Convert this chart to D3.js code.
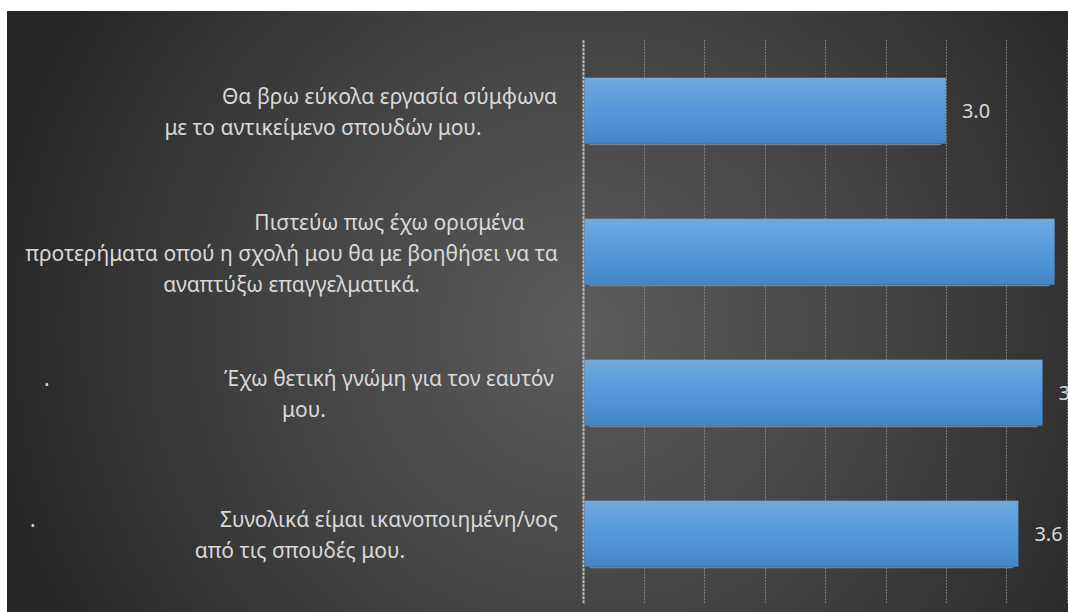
<!DOCTYPE html>
<html>
<head>
<meta charset="utf-8">
<script src="https://cdn.jsdelivr.net/npm/d3@7"></script>
<style>
  html, body { margin: 0; padding: 0; background: #ffffff; }
  svg { display: block; }
  text { font-family: "Noto Sans", "Open Sans", sans-serif; }
</style>
</head>
<body>
<svg id="chart" width="1068" height="612"></svg>
<script>
// Survey statements (wrapped as they appear on the axis) and mean scores
const categories = [
  "Θα βρω εύκολα εργασία σύμφωνα με το αντικείμενο σπουδών μου.",
  "Πιστεύω πως έχω ορισμένα προτερήματα οπού η σχολή μου θα με βοηθήσει να τα αναπτύξω επαγγελματικά.",
  "Έχω θετική γνώμη για τον εαυτόν μου.",
  "Συνολικά είμαι ικανοποιημένη/νος από τις σπουδές μου."
];
const categoryLines = [
  ["Θα βρω εύκολα εργασία σύμφωνα", "με το αντικείμενο σπουδών μου."],
  ["Πιστεύω πως έχω ορισμένα", "προτερήματα οπού η σχολή μου θα με βοηθήσει να τα", "αναπτύξω επαγγελματικά."],
  ["Έχω θετική γνώμη για τον εαυτόν", "μου."],
  ["Συνολικά είμαι ικανοποιημένη/νος", "από τις σπουδές μου."]
];
const leadingMarks = ["", "", ".", "."];
const scores = [3.0, 3.9, 3.8, 3.6];
const gridStep = 0.5;
const axisMax = 4.5;

// Layout
const W = 1068, H = 612;
const frame = { x: 7, y: 11 };
const plot = { left: 583.5, top: 40.2, bottom: 604.2, unit: 120.8 };
const lineGap = 31;
const labelSize = 21;
const valueSize = 20;
const lineCenters = [[389.5, 323], [389.5, 291.5, 291.5], [389, 304], [389, 300]];
const markX = [0, 0, 44, 30];
const textColor = "#d9d9d9";

const svg = d3.select("#chart");
const defs = svg.append("defs");

// Dark backdrop with a soft central glow
const bg = defs.append("radialGradient")
  .attr("id", "bgGlow")
  .attr("gradientUnits", "userSpaceOnUse")
  .attr("cx", 585).attr("cy", 330).attr("r", 600);
bg.append("stop").attr("offset", "0%").attr("stop-color", "#5c5c5c");
bg.append("stop").attr("offset", "55%").attr("stop-color", "#414141");
bg.append("stop").attr("offset", "100%").attr("stop-color", "#272727");

const barFill = defs.append("linearGradient")
  .attr("id", "barFill").attr("x1", 0).attr("y1", 0).attr("x2", 0).attr("y2", 1);
barFill.append("stop").attr("offset", "0%").attr("stop-color", "#71a8de");
barFill.append("stop").attr("offset", "50%").attr("stop-color", "#5499dc");
barFill.append("stop").attr("offset", "100%").attr("stop-color", "#4386c7");

svg.append("rect")
  .attr("x", frame.x).attr("y", frame.y)
  .attr("width", W - frame.x).attr("height", H - frame.y)
  .attr("fill", "url(#bgGlow)");

const x = d3.scaleLinear()
  .domain([0, axisMax])
  .range([plot.left, plot.left + axisMax * plot.unit]);

const y = d3.scaleBand()
  .domain(categories)
  .range([plot.top, plot.bottom])
  .paddingInner(0.532)
  .paddingOuter(0.266);

// Vertical dotted gridlines
const gridTicks = d3.range(gridStep, axisMax + 1e-9, gridStep);
svg.append("g")
  .selectAll("line")
  .data(gridTicks)
  .join("line")
  .attr("x1", d => Math.round(x(d)) + 0.5)
  .attr("x2", d => Math.round(x(d)) + 0.5)
  .attr("y1", plot.top)
  .attr("y2", plot.bottom)
  .attr("stroke", "#8e8e8e")
  .attr("stroke-width", 1)
  .attr("stroke-dasharray", "1.5,1.5");

// Category axis line
svg.append("line")
  .attr("x1", x(0)).attr("x2", x(0))
  .attr("y1", plot.top).attr("y2", plot.bottom)
  .attr("stroke", "#bdbdbd")
  .attr("stroke-width", 2)
  .attr("stroke-dasharray", "3,1");

// Bars with a thin shadow along the bottom edge
const bars = svg.append("g");
bars.selectAll("line.shadow")
  .data(scores)
  .join("line")
  .attr("class", "shadow")
  .attr("x1", x(0) + 6)
  .attr("x2", d => x(d) - 5)
  .attr("y1", (d, i) => y(categories[i]) + y.bandwidth() + 0.8)
  .attr("y2", (d, i) => y(categories[i]) + y.bandwidth() + 0.8)
  .attr("stroke", "#808080")
  .attr("stroke-width", 1.4);

bars.selectAll("rect")
  .data(scores)
  .join("rect")
  .attr("x", x(0) + 1)
  .attr("y", (d, i) => y(categories[i]))
  .attr("width", d => x(d) - x(0) - 1)
  .attr("height", y.bandwidth())
  .attr("fill", "url(#barFill)");

// Value labels
svg.append("g")
  .selectAll("text")
  .data(scores)
  .join("text")
  .attr("x", d => x(d) + 16)
  .attr("y", (d, i) => y(categories[i]) + y.bandwidth() / 2 + 7)
  .attr("fill", textColor)
  .attr("font-size", valueSize)
  .text(d => d3.format(".1f")(d));

// Wrapped category labels
const labels = svg.append("g");
categoryLines.forEach((lines, i) => {
  const yc = y(categories[i]) + y.bandwidth() / 2 + 2;
  const n = lines.length;
  lines.forEach((line, j) => {
    const cy = yc + (j - (n - 1) / 2) * lineGap;
    labels.append("text")
      .attr("x", lineCenters[i][j])
      .attr("y", cy + 7)
      .attr("text-anchor", "middle")
      .attr("fill", textColor)
      .attr("font-size", labelSize)
      .text(line);
  });
  if (leadingMarks[i]) {
    const cy = yc - (n - 1) / 2 * lineGap;
    labels.append("text")
      .attr("x", markX[i])
      .attr("y", cy + 7)
      .attr("fill", textColor)
      .attr("font-size", labelSize)
      .text(leadingMarks[i]);
  }
});
</script>
</body>
</html>
